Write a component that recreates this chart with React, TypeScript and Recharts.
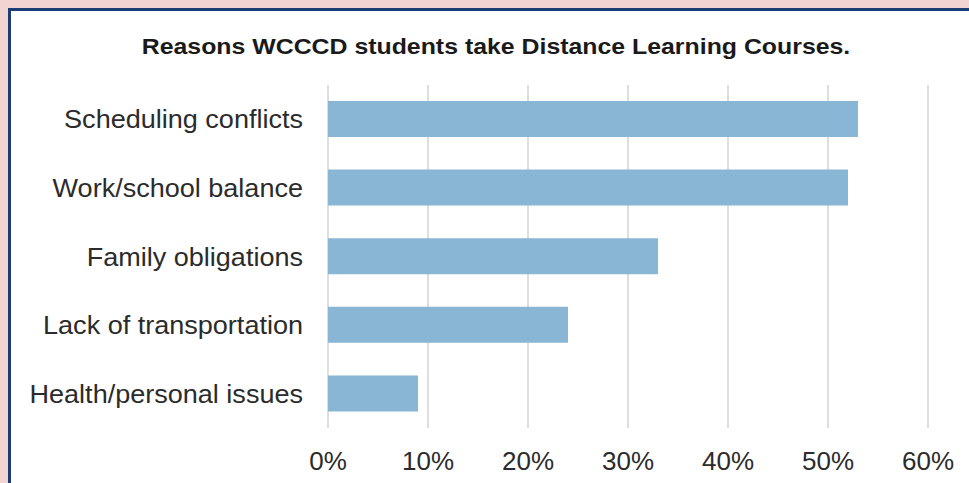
import { BarChart, Bar, XAxis, YAxis, CartesianGrid } from 'recharts'

const reasons = [
  'Scheduling conflicts',
  'Work/school balance',
  'Family obligations',
  'Lack of transportation',
  'Health/personal issues',
]
const percents = [53, 52, 33, 24, 9]
const xTicks = [0, 10, 20, 30, 40, 50, 60]

const TEXT = '#2b2b2b'
const FONT = '"Liberation Sans", Arial, sans-serif'

const data = reasons.map((r, i) => ({ reason: r, pct: percents[i] }))

function ReasonTick({ x, y, payload }: any) {
  return (
    <g transform={`translate(${x - 25},${y}) scale(1.04,1)`}>
      <text textAnchor="end" dy={9} fontSize={26} fill={TEXT} fontFamily={FONT}>
        {payload.value}
      </text>
    </g>
  )
}

function PctTick({ x, y, payload }: any) {
  return (
    <text x={x} y={y} dy={42} textAnchor="middle" fontSize={26} fill={TEXT} fontFamily={FONT}>
      {`${payload.value}%`}
    </text>
  )
}

export default function App() {
  return (
    <div style={{ position: 'absolute', top: 0, left: 0, width: 969, height: 483, background: '#f2d5d3', overflow: 'hidden' }}>
      <div
        style={{
          position: 'absolute',
          left: 8,
          top: 8,
          width: 1100,
          height: 1100,
          borderTop: '3px solid #1b3c74',
          borderLeft: '3px solid #1b3c74',
          background: '#fff',
        }}
      />
      <svg width={969} height={483} style={{ position: 'absolute', left: 0, top: 0 }}>
        <g transform="translate(496,54) scale(1.13,1)">
          <text textAnchor="middle" fontSize={22} fontWeight="bold" fill="#1a1a1a" fontFamily={FONT}>
            Reasons WCCCD students take Distance Learning Courses.
          </text>
        </g>
      </svg>
      <div style={{ position: 'absolute', left: 0, top: 0 }}>
        <BarChart
          width={969}
          height={483}
          data={data}
          layout="vertical"
          margin={{ top: 85, right: 41, bottom: 0, left: 0 }}
        >
          <CartesianGrid horizontal={false} stroke="#dedede" strokeWidth={2} />
          <XAxis
            type="number"
            domain={[0, 60]}
            ticks={xTicks}
            axisLine={false}
            tickLine={false}
            tickSize={0}
            tickMargin={0}
            height={55}
            tick={<PctTick />}
            interval={0}
          />
          <YAxis
            type="category"
            dataKey="reason"
            width={328}
            axisLine={false}
            tickLine={false}
            tickSize={0}
            tickMargin={0}
            tick={<ReasonTick />}
            interval={0}
          />
          <Bar dataKey="pct" fill="#88b6d4" barSize={36} isAnimationActive={false} />
        </BarChart>
      </div>
    </div>
  )
}
